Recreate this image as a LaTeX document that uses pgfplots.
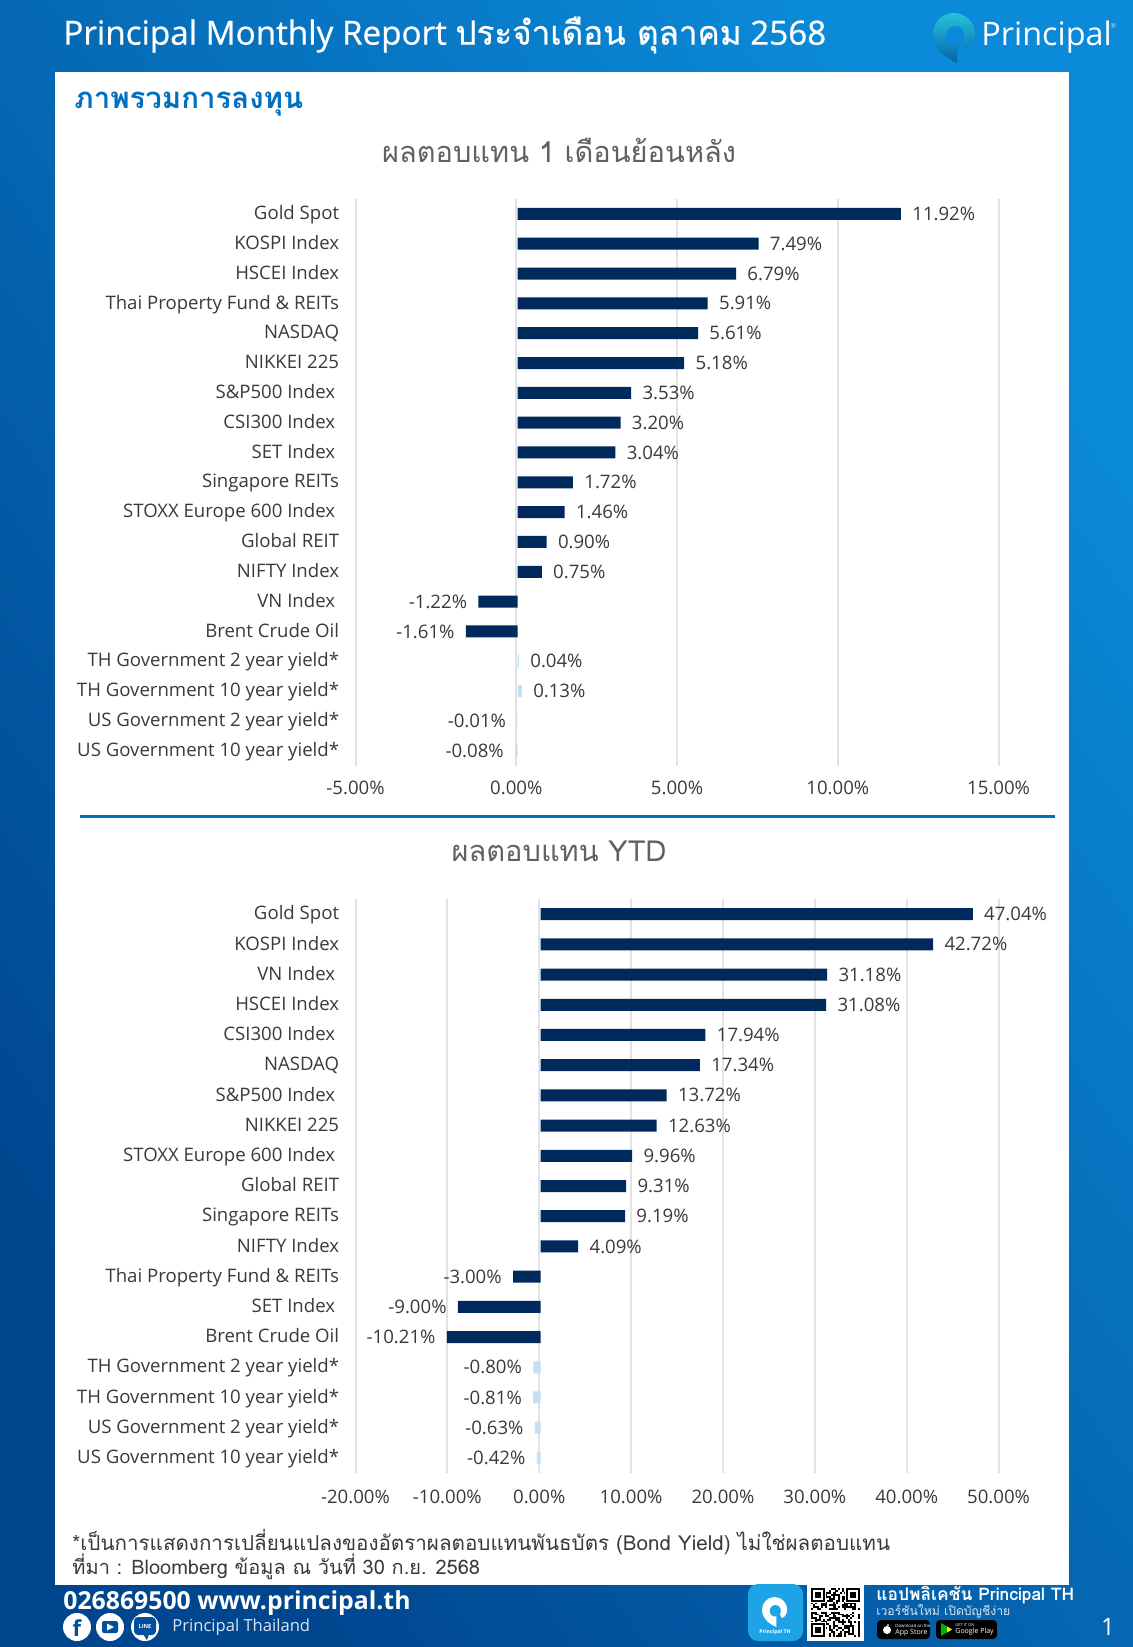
\documentclass[border=0pt]{standalone}
\usepackage{fontspec}
\setmainfont{Open Sans}
\newfontfamily\thai[Script=Thai]{Loma}
\newfontfamily\thaib[Script=Thai,FakeBold=0.7]{Loma}
\newfontfamily\latb[FakeBold=0.7]{Open Sans}
\usepackage{pgfplots}
\pgfplotsset{compat=1.18}
\usepackage{pgfplotstable}
\usetikzlibrary{calc}

\definecolor{navy}{HTML}{002A5C}
\definecolor{pale}{HTML}{C5E0F3}
\definecolor{gridc}{HTML}{E2E2E2}
\definecolor{txt}{HTML}{3A3A3A}
\definecolor{rule}{HTML}{0070C0}
\definecolor{bgdark}{HTML}{00468F}
\definecolor{bglight}{HTML}{0A8AD8}
\definecolor{foot}{HTML}{00509E}
\definecolor{appblue}{HTML}{1DA3E6}
\definecolor{pintop}{HTML}{25C3D8}
\definecolor{pinbot}{HTML}{0663AD}

\newcommand\lab{\fontsize{9.3}{11}\selectfont}
\newcommand\gap{\kern2pt\relax}
% the pin of the logo, in a box 42 wide and 50 high
\newcommand\pinpath{(24,50) .. controls (12,45) and (0,35) .. (0,21)
  arc[start angle=180, end angle=360, radius=21]
  .. controls (42,27) and (39,33) .. (33,35) -- (30,29)
  .. controls (33,24) and (32,13) .. (22,13)
  .. controls (13,13) and (10,25) .. (15,30)
  .. controls (18,33) and (21,33) .. (24,32) -- cycle}

% one month
\pgfplotstableread{
y val
0 11.92
1 7.49
2 6.79
3 5.91
4 5.61
5 5.18
6 3.53
7 3.20
8 3.04
9 1.72
10 1.46
11 0.90
12 0.75
13 -1.22
14 -1.61
}\monthidx
\pgfplotstableread{
y val
15 0.04
16 0.13
17 -0.01
18 -0.08
}\monthbond
% ytd
\pgfplotstableread{
y val
0 47.04
1 42.72
2 31.18
3 31.08
4 17.94
5 17.34
6 13.72
7 12.63
8 9.96
9 9.31
10 9.19
11 4.09
12 -3.00
13 -9.00
14 -10.21
}\ytdidx
\pgfplotstableread{
y val
15 -0.80
16 -0.81
17 -0.63
18 -0.42
}\ytdbond

\pgfplotsset{
  retchart/.style={
    scale only axis,
    width=321.55pt,
    xbar,
    bar width=6pt,
    bar shift=0pt,
    y dir=reverse,
    ymin=-0.5, ymax=18.5,
    ytick={0,...,18},
    axis line style={draw=none},
    tick style={draw=none},
    xmajorgrids,
    grid style={gridc, line width=1pt},
    scaled x ticks=false,
    /pgf/number format/assume math mode=true,
    /pgf/number format/.cd, fixed, fixed zerofill, precision=2, /pgfplots/.cd,
    xticklabel={\pgfmathprintnumber{\tick}\%},
    xticklabel style={font=\lab, text=txt, inner sep=0pt},
    yticklabel style={font=\lab, text=txt, inner sep=0pt, anchor=east, text height=1.55ex, text depth=.3ex},
    major tick length=0pt,
    point meta=x,
    nodes near coords={\pgfmathprintnumber{\pgfplotspointmeta}\%},
    nodes near coords align={horizontal},
    every node near coord/.append style={font=\lab, text=txt, inner ysep=0pt, inner xsep=5.5pt},
  },
  barstyle/.style={fill=#1, draw=none, xshift=0.7pt},
}

\begin{document}
\begin{tikzpicture}[x=0.5pt,y=-0.5pt]
\useasboundingbox (0,0) rectangle (1133,1647);
\clip (0,0) rectangle (1133,1647);

% page background
\shade[left color=bgdark, right color=bglight, shading angle=125] (0,0) rectangle (1133,1647);
\fill[white] (55,72) rectangle (1069,1585);

% header
\node[anchor=west, inner sep=0pt, text=white] at (63,35)
  {\fontsize{16.6}{19}\selectfont\latb Principal Monthly Report {\thaib ประจำเดือน ตุลาคม} 2568};
\node[anchor=west, inner sep=0pt, text=white] at (981,37) {\fontsize{16.2}{19}\selectfont Principal};
\node[anchor=west, inner sep=0pt, text=white!70!bglight] at (1110,26) {\fontsize{3.5}{4}\selectfont\textregistered};
\begin{scope}[shift={(933,13)}]
  \shade[top color=pintop, bottom color=pinbot] \pinpath;
\end{scope}

% section heading and titles
\node[anchor=west, inner sep=0pt, text=rule] at (74,104)
  {\fontsize{14.7}{17}\selectfont\thai\bfseries ภาพรวมการลงทุน};
\node[inner sep=0pt, text=txt!80!white] at (559,150)
  {\fontsize{14.5}{17}\selectfont\thai ผลตอบแทน 1 เดือนย้อนหลัง};
\node[inner sep=0pt, text=txt!80!white] at (559,851)
  {\fontsize{14.5}{17}\selectfont\thai ผลตอบแทน YTD};
\draw[rule, line width=1.5pt] (80,816) -- (1055,816);

\begin{axis}[retchart, at={(177.75pt,-99.5pt)}, anchor=north west, height=283.3pt,
  xmin=-5, xmax=15, xtick={-5,0,5,10,15},
  yticklabels={Gold Spot, KOSPI Index, HSCEI Index, Thai Property Fund \& REITs, NASDAQ, NIKKEI 225,
    S\&P500 Index\gap, CSI300 Index\gap, SET Index\gap, Singapore REITs, STOXX Europe 600 Index\gap,
    Global REIT, NIFTY Index, VN Index\gap, Brent Crude Oil, TH Government 2 year yield*,
    TH Government 10 year yield*, US Government 2 year yield*, US Government 10 year yield*},
  yticklabel style={xshift=-8pt, yshift=0.5pt},
  xticklabel style={yshift=-7.5pt},
]
\addplot[barstyle=navy] table[x=val, y=y] {\monthidx};
\addplot[barstyle=pale] table[x=val, y=y] {\monthbond};
\end{axis}

\begin{axis}[retchart, at={(177.75pt,-449.5pt)}, anchor=north west, height=287pt,
  xmin=-20, xmax=50, xtick={-20,-10,0,10,20,30,40,50},
  yticklabels={Gold Spot, KOSPI Index, VN Index\gap, HSCEI Index, CSI300 Index\gap, NASDAQ,
    S\&P500 Index\gap, NIKKEI 225, STOXX Europe 600 Index\gap, Global REIT, Singapore REITs, NIFTY Index,
    Thai Property Fund \& REITs, SET Index\gap, Brent Crude Oil, TH Government 2 year yield*,
    TH Government 10 year yield*, US Government 2 year yield*, US Government 10 year yield*},
  yticklabel style={xshift=-8pt, yshift=0.5pt},
  xticklabel style={yshift=-8.5pt},
]
\addplot[barstyle=navy] table[x=val, y=y] {\ytdidx};
\addplot[barstyle=pale] table[x=val, y=y] {\ytdbond};
\end{axis}

% footnotes
\node[anchor=west, inner sep=0pt, text=txt] at (72,1542)
  {\fontsize{10.3}{12}\selectfont\thai *เป็นการแสดงการเปลี่ยนแปลงของอัตราผลตอบแทนพันธบัตร (Bond Yield) ไม่ใช่ผลตอบแทน};
\node[anchor=west, inner sep=0pt, text=txt] at (72,1567)
  {\fontsize{10}{12}\selectfont\thai ที่มา : Bloomberg ข้อมูล ณ วันที่ 30 ก.ย. 2568};

% footer
\node[anchor=west, inner sep=0pt, text=white] at (63,1603)
  {\fontsize{12.4}{14}\selectfont\bfseries 026869500 www.principal.th};
\foreach \cx in {77,110,145}{\fill[white] (\cx,1627) circle[radius=14];}
\node[text=foot, inner sep=0pt] at (77,1628) {\fontsize{11}{12}\selectfont\bfseries f};
\fill[foot, rounded corners=1pt] (102,1621) rectangle (118,1633);
\fill[white] (107,1623.5) -- (114,1627) -- (107,1630.5) -- cycle;
\fill[foot, rounded corners=2pt] (134,1617) rectangle (156,1635);
\fill[foot] (143,1634) -- (147,1640) -- (149,1634) -- cycle;
\node[text=white, inner sep=0pt] at (145,1626) {\fontsize{2.8}{3}\selectfont\bfseries LINE};
\node[anchor=west, inner sep=0pt, text=white!85!foot] at (172,1627) {\fontsize{8.3}{10}\selectfont Principal Thailand};

% app icon
\fill[appblue, rounded corners=5pt] (748,1584) rectangle (803,1641);
\begin{scope}[shift={(762,1597)}, scale=0.6]
  \fill[white] \pinpath;
\end{scope}
\node[text=white, inner sep=0pt] at (775,1632) {\fontsize{2.6}{3}\selectfont\bfseries Principal TH};

% qr code
\fill[white] (807,1584) rectangle (864,1641);
\foreach \i in {0,...,24}{\foreach \j in {0,...,24}{
  \pgfmathtruncatemacro\on{int(mod(floor(abs(sin(\i*37+\j*91+\i*\j*13))*997),2))}
  \ifnum\on=1 \fill[black] ({811+\i*1.96},{1588+\j*1.96}) rectangle +(1.96,1.96);\fi
}}
\foreach \qx/\qy in {811/1588, 846/1588, 811/1623}{
  \fill[white] (\qx-1,\qy-1) rectangle +(15.7,15.7);
  \fill[black] (\qx,\qy) rectangle +(13.7,13.7);
  \fill[white] (\qx+2,\qy+2) rectangle +(9.7,9.7);
  \fill[black] (\qx+4,\qy+4) rectangle +(5.7,5.7);
}

% store text and badges
\node[anchor=west, inner sep=0pt, text=white] at (876,1595)
  {\fontsize{8.7}{10}\selectfont\thai\bfseries แอปพลิเคชัน Principal TH};
\node[anchor=west, inner sep=0pt, text=white!85!foot] at (876,1611)
  {\fontsize{6.1}{8}\selectfont\thai เวอร์ชันใหม่ เปิดบัญชีง่าย};
\fill[black, rounded corners=2pt] (877,1620) rectangle (930,1639);
\fill[white] (887,1630) circle[radius=4];
\fill[white] (888,1625) circle[radius=1];
\node[text=white, inner sep=0pt, anchor=west] at (895,1626) {\fontsize{2.2}{3}\selectfont Download on the};
\node[text=white, inner sep=0pt, anchor=west] at (895,1632.5) {\fontsize{3.5}{4}\selectfont App Store};
\fill[black, rounded corners=2pt] (936,1620) rectangle (997,1639);
\fill[green!70!black] (941,1623) -- (952,1629.5) -- (941,1636) -- cycle;
\fill[yellow!90!orange] (947,1626.5) -- (952,1629.5) -- (947,1632.5) -- cycle;
\node[text=white, inner sep=0pt, anchor=west] at (955,1625) {\fontsize{2}{3}\selectfont GET IT ON};
\node[text=white, inner sep=0pt, anchor=west] at (955,1632) {\fontsize{3.5}{4}\selectfont Google Play};
\node[inner sep=0pt, text=white] at (1108,1627) {\fontsize{12}{14}\selectfont 1};
\end{tikzpicture}
\end{document}
